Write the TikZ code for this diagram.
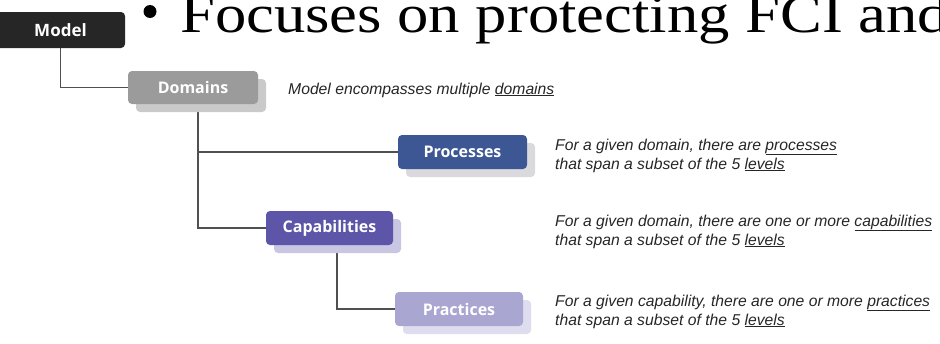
\documentclass[tikz,border=0pt]{standalone}
\usepackage{fontspec}
\setmainfont{Liberation Serif}
\newfontfamily\headfont[FakeStretch=1.16]{Liberation Serif}
\newfontfamily\boxfont{Open Sans}
\newfontfamily\notefont{Liberation Sans}
\usetikzlibrary{shadows,backgrounds}

\definecolor{modelc}{HTML}{262626}
\definecolor{domainc}{HTML}{9B9B9B}
\definecolor{domainsh}{HTML}{CACACA}
\definecolor{procc}{HTML}{3D5794}
\definecolor{procsh}{HTML}{DADADE}
\definecolor{capc}{HTML}{5C55A8}
\definecolor{capsh}{HTML}{C9C6E4}
\definecolor{pracc}{HTML}{A9A6D2}
\definecolor{pracsh}{HTML}{DEDCEF}
\definecolor{linkc}{HTML}{505050}

\tikzset{
  levelbox/.style={rounded corners=4pt, text=white, minimum height=34pt,
    font=\boxfont\bfseries\fontsize{16}{18}\selectfont, inner sep=0pt},
  shade/.style={general shadow={fill=#1, shadow xshift=8pt, shadow yshift=-8pt}},
  link/.style={draw=linkc, line width=1.1pt},
  % anchored on the baseline of the last line
  note/.style={anchor=base west, align=left, inner sep=0pt,
    font=\notefont\itshape\fontsize{15.7}{19}\selectfont, text=black!85}
}

\begin{document}
\begin{tikzpicture}[x=1pt,y=-1pt]
\useasboundingbox (0,0) rectangle (940,343);
\clip (0,0) rectangle (940,343);

% heading line of the slide
\node[circle, fill=black, inner sep=0pt, minimum size=13pt] (bullet) at (150,11.5) {};
\node[anchor=base west, inner sep=0pt, font=\headfont\fontsize{54}{58}\selectfont] (head) at (180,32) {Focuses on protecting FCI and};

% hierarchy boxes
\node[levelbox, fill=modelc, minimum width=129pt, minimum height=36pt, font=\boxfont\bfseries\fontsize{17}{19}\selectfont] (model) at (60.5,30) {Model};
\node[levelbox, fill=domainc, shade=domainsh, minimum width=130pt, minimum height=33pt] (domains) at (193,87.5) {Domains};
\node[levelbox, fill=procc, shade=procsh, minimum width=129pt] (processes) at (462.5,152) {Processes};
\node[levelbox, fill=capc, shade=capsh, minimum width=127pt] (capabilities) at (329.5,228) {Capabilities};
\node[levelbox, fill=pracc, shade=pracsh, minimum width=128pt] (practices) at (459,309) {Practices};

% connectors
\begin{pgfonlayer}{background}
\draw[link] (model.south) |- (domains.west);
\draw[link] ([xshift=5pt]domains.south) |- (processes.west);
\draw[link] ([xshift=5pt]domains.south) |- (capabilities.west);
\draw[link] ([xshift=7.5pt]capabilities.south) |- (practices.west);
\end{pgfonlayer}

% descriptions
\node[note] (ndom) at (288,94) {Model encompasses multiple \underline{domains}};
\node[note] (nproc) at (555,169) {For a given domain, there are \underline{processes}\\that span a subset of the 5 \underline{levels}};
\node[note] (ncap) at (555,245) {For a given domain, there are one or more \underline{capabilities}\\that span a subset of the 5 \underline{levels}};
\node[note] (nprac) at (555,325) {For a given capability, there are one or more \underline{practices}\\that span a subset of the 5 \underline{levels}};
\end{tikzpicture}
\end{document}
